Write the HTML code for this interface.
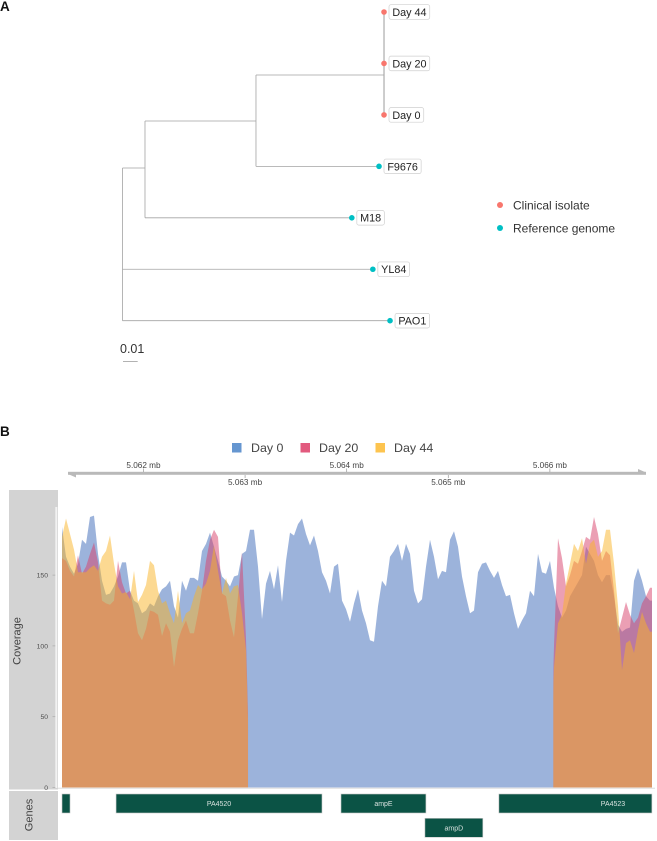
<!DOCTYPE html>
<html><head><meta charset="utf-8"><style>
html,body{margin:0;padding:0;background:#fff;width:657px;height:841px;overflow:hidden}
svg{display:block;font-family:"Liberation Sans",sans-serif}
</style></head><body>
<svg id="fig" width="657" height="841" viewBox="0 0 657 841" xmlns="http://www.w3.org/2000/svg">
<defs>
<clipPath id="plot-clip"><rect x="62" y="490" width="590" height="298"/></clipPath>
<clipPath id="covered-clip"><rect id="covered-left" y="490" height="298"/><rect id="covered-right" y="490" height="298"/></clipPath>
</defs>
<text x="0" y="11" font-size="13.5" font-weight="bold" fill="#111">A</text>
<text x="0" y="436" font-size="13.5" font-weight="bold" fill="#111">B</text>
<g id="tree"></g>
<g>
<circle cx="500" cy="205" r="3" fill="#f8766d"/>
<text x="513" y="209.5" font-size="12" fill="#333">Clinical isolate</text>
<circle cx="500" cy="228" r="3" fill="#00bfc4"/>
<text x="513" y="232.5" font-size="12" fill="#333">Reference genome</text>
</g>
<g>
<text x="120" y="353" font-size="12.5" fill="#333">0.01</text>
<line x1="123" y1="361.5" x2="137.7" y2="361.5" stroke="#aaa" stroke-width="0.9"/>
</g>
<g>
<rect x="232" y="443" width="9.5" height="9.5" fill="#6596d0"/>
<text x="251" y="452" font-size="12.4" fill="#444">Day 0</text>
<rect x="300.5" y="443" width="9.5" height="9.5" fill="#e25a7e"/>
<text x="319" y="452" font-size="12.4" fill="#444">Day 20</text>
<rect x="375.5" y="443" width="9.5" height="9.5" fill="#fdc44f"/>
<text x="394" y="452" font-size="12.4" fill="#444">Day 44</text>
</g>
<g id="ideogram"></g>
<rect x="9" y="490" width="49" height="299.5" fill="#d3d3d3"/>
<rect x="9" y="791" width="49" height="49" fill="#d3d3d3"/>
<rect x="55.3" y="507" width="2" height="281" fill="#f2f2f2"/>
<text transform="translate(20.5,641) rotate(-90)" text-anchor="middle" font-size="11" fill="#444">Coverage</text>
<text transform="translate(32.5,815) rotate(-90)" text-anchor="middle" font-size="11" fill="#444">Genes</text>
<g id="yaxis"></g>
<g id="areas" clip-path="url(#plot-clip)"></g>
<line x1="58" y1="788.3" x2="655" y2="788.3" stroke="#dedede" stroke-width="1"/>
<g id="genes"></g>
</svg>
<script>
var positionStartMb = 5.061198;
var positionStepMb = 0.00003937;
var deletionStartMb = 5.063029;
var deletionEndMb = 5.066034;
var day0Values = [184,163,156,151,158,175,172,191,192,165,146,136,137,142,149,159,159,139,132,130,123,125,130,128,135,140,142,146,128,120,146,139,148,148,146,167,172,180,170,160,149,146,142,149,150,165,167,182,182,156,119,144,153,140,157,131,160,180,178,186,190,179,171,178,167,152,146,137,156,158,132,126,117,130,140,125,116,104,103,128,146,142,163,167,172,160,172,165,139,130,133,156,175,163,147,153,152,175,181,170,149,135,123,125,152,158,159,153,148,153,143,135,136,123,112,118,123,139,135,165,152,151,160,141,128,120,125,135,140,145,150,170,165,160,150,145,150,150,135,115,110,112,113,146,155,146,135,132,132];
var day20Values = [162,160,153,149,164,151,156,165,173,159,132,130,129,132,160,145,137,139,125,109,104,112,125,124,122,107,116,110,85,104,112,118,109,109,123,139,160,175,182,177,137,135,118,106,135,166,105,0,0,0,0,0,0,0,0,0,0,0,0,0,0,0,0,0,0,0,0,0,0,0,0,0,0,0,0,0,0,0,0,0,0,0,0,0,0,0,0,0,0,0,0,0,0,0,0,0,0,0,0,0,0,0,0,0,0,0,0,0,0,0,0,0,0,0,0,0,0,0,0,0,0,0,0,100,176,162,142,150,160,158,167,177,175,191,179,160,167,164,139,109,120,131,122,116,120,130,135,141,141];
var day44Values = [177,190,179,168,152,152,152,155,157,153,163,167,178,158,142,137,138,133,153,131,136,143,160,157,139,130,132,123,116,139,116,123,125,135,143,140,144,153,171,153,137,148,137,142,143,123,97,0,0,0,0,0,0,0,0,0,0,0,0,0,0,0,0,0,0,0,0,0,0,0,0,0,0,0,0,0,0,0,0,0,0,0,0,0,0,0,0,0,0,0,0,0,0,0,0,0,0,0,0,0,0,0,0,0,0,0,0,0,0,0,0,0,0,0,0,0,0,0,0,0,0,0,0,85,116,122,144,158,172,167,176,158,172,175,163,167,182,182,158,128,83,102,104,95,111,124,116,110,110];
var yTicks = [0,50,100,150];
var upperTicksMb = [5.062,5.064,5.066];
var lowerTicksMb = [5.063,5.065];
var geneNames = ["","PA4520","ampE","ampD","PA4523"];
var geneStartsMb = [5.061198,5.06173,5.063944,5.06477,5.065498];
var geneEndsMb = [5.061277,5.063757,5.06478,5.06534,5.067004];
var geneRows = [0,0,0,1,0];
var tipNames = ["Day 44","Day 20","Day 0","F9676","M18","YL84","PAO1"];
var tipDepths = [0.1779,0.1779,0.1779,0.1745,0.1560,0.1703,0.1820];
var tipGroups = ["clinical","clinical","clinical","reference","reference","reference","reference"];
var cladeDepths = [0.0153,0.0908,0.1779];

var NS = "http://www.w3.org/2000/svg";
function mk(parent, tag, attrs, text) {
  var el = document.createElementNS(NS, tag);
  for (var k in attrs) el.setAttribute(k, attrs[k]);
  if (text !== undefined) el.textContent = text;
  parent.appendChild(el);
  return el;
}
function xScale(mb) { return 62 + (mb - positionStartMb) * 101600; }
function yScale(v) { return 787.5 - v * 1.416; }
function treeX(d) { return 122.5 + d * 1470; }
function tipY(i) { return 12 + i * 51.45; }

/* regions with reads in the later samples */
var covL = document.getElementById("covered-left");
covL.setAttribute("x", 62);
covL.setAttribute("width", xScale(deletionStartMb) - 62);
var covR = document.getElementById("covered-right");
covR.setAttribute("x", xScale(deletionEndMb));
covR.setAttribute("width", 652 - xScale(deletionEndMb));

/* coverage areas */
var areasG = document.getElementById("areas");
function drawArea(values, color, opacity, name, clip) {
  var d = "M" + xScale(positionStartMb).toFixed(1) + " " + yScale(0);
  values.forEach(function (v, i) {
    d += "L" + xScale(positionStartMb + i * positionStepMb).toFixed(1) + " " + yScale(v).toFixed(1);
  });
  d += "L" + xScale(positionStartMb + (values.length - 1) * positionStepMb).toFixed(1) + " " + yScale(0) + "Z";
  var p = mk(areasG, "path", {d: d, fill: color, "fill-opacity": opacity, stroke: "none"});
  if (clip) p.setAttribute("clip-path", "url(#covered-clip)");
  
  
}
drawArea(day0Values, "#678ac8", 0.65, "area-day-0", false);
drawArea(day20Values, "#d8406a", 0.5, "area-day-20", true);
drawArea(day44Values, "#f9b325", 0.5, "area-day-44", true);

/* y axis */
var yG = document.getElementById("yaxis");
yTicks.forEach(function (t) {
  var tick = mk(yG, "line", {x1: 52.5, x2: 55.3, y1: yScale(t), y2: yScale(t), stroke: "#aaa", "stroke-width": 0.7});
  
  
  var lab = mk(yG, "text", {x: 48, y: yScale(t) + 2.4, "text-anchor": "end", "font-size": 6.8, fill: "#4d4d4d"}, String(t));
  
  
});

/* genome axis */
var idG = document.getElementById("ideogram");
var axisLine = mk(idG, "rect", {x: 68, y: 471.8, width: 578, height: 3, fill: "#b9b9b9"});


var arrowL = mk(idG, "polygon", {points: "68,474 76,474 76,477.5", fill: "#b9b9b9"});


var arrowR = mk(idG, "polygon", {points: "646,472.5 638,472.5 638,469", fill: "#b9b9b9"});


upperTicksMb.forEach(function (m) {
  var x = xScale(m);
  var lab = mk(idG, "text", {x: x, y: 468, "text-anchor": "middle", "font-size": 8.2, fill: "#444"}, m.toFixed(3) + " mb");
  
  
  var tk = mk(idG, "line", {x1: x, x2: x, y1: 468.5, y2: 472, stroke: "#999", "stroke-width": 0.7});
  
  
});
lowerTicksMb.forEach(function (m) {
  var x = xScale(m);
  var lab = mk(idG, "text", {x: x, y: 485, "text-anchor": "middle", "font-size": 8.2, fill: "#444"}, m.toFixed(3) + " mb");
  
  
  var tk = mk(idG, "line", {x1: x, x2: x, y1: 475, y2: 478, stroke: "#999", "stroke-width": 0.7});
  
  
});

/* genes */
var gG = document.getElementById("genes");
geneNames.forEach(function (n, i) {
  var x0 = xScale(geneStartsMb[i]), x1 = xScale(geneEndsMb[i]);
  var y = 794 + geneRows[i] * 24.3;
  var r = mk(gG, "rect", {x: x0, y: y, width: x1 - x0, height: 19, fill: "#0b5345", stroke: "#c9c9c9", "stroke-width": 0.6});
  
  
  if (n) {
    var cx = n === "PA4523" ? 613 : (x0 + x1) / 2;
    var t = mk(gG, "text", {x: cx, y: y + 12, "text-anchor": "middle", "font-size": 7, fill: "#d8e2df"}, n);
    
    
  }
});

/* tree */
var tG = document.getElementById("tree");
function branch(x1, y1, x2, y2, w) {
  var l = mk(tG, "line", {x1: x1, y1: y1, x2: x2, y2: y2, stroke: "#a3a3a3", "stroke-width": w || 0.8});
  
  
}
var rootX = treeX(0), c1 = treeX(cladeDepths[0]), c2 = treeX(cladeDepths[1]), c3 = treeX(cladeDepths[2]);
var yC3 = 75, yC2 = 121, yC1 = 168;
branch(rootX, yC1, rootX, tipY(6));
branch(rootX, yC1, c1, yC1);
branch(c1, yC2, c1, tipY(4));
branch(c1, yC2, c2, yC2);
branch(c2, yC3, c2, tipY(3));
branch(c2, yC3, c3, yC3);
branch(c3, tipY(0), c3, tipY(2), 1.1);
branch(c2, tipY(3), treeX(tipDepths[3]), tipY(3));
branch(c1, tipY(4), treeX(tipDepths[4]), tipY(4));
branch(rootX, tipY(5), treeX(tipDepths[5]), tipY(5));
branch(rootX, tipY(6), treeX(tipDepths[6]), tipY(6));
tipNames.forEach(function (n, i) {
  var x = treeX(tipDepths[i]), y = tipY(i);
  var col = tipGroups[i] === "clinical" ? "#f8766d" : "#00bfc4";
  var dot = mk(tG, "circle", {cx: x, cy: y, r: 2.8, fill: col});
  
  
  var text = mk(tG, "text", {x: x + 8.3, y: y + 3.9, "font-size": 10.8, fill: "#222"}, n);
  
  
  var w = text.getComputedTextLength();
  var box = mk(tG, "rect", {x: x + 5, y: y - 7.3, width: w + 6.5, height: 14.6, rx: 2, fill: "#fff", stroke: "#cfcfcf", "stroke-width": 0.7});
  
  
  tG.appendChild(text);
});
</script>
</body></html>
